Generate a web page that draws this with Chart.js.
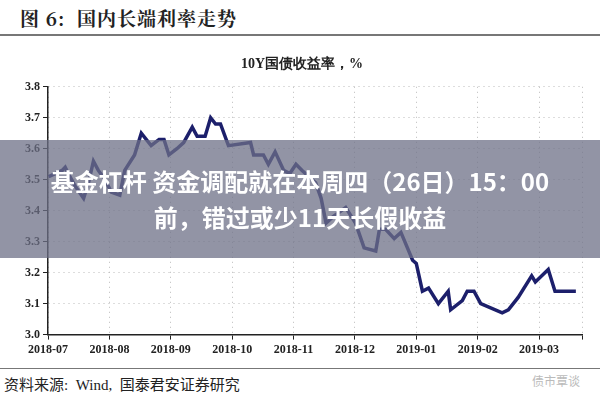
<!DOCTYPE html>
<html lang="zh">
<head>
  <meta charset="UTF-8" />
  <title>国内长端利率走势</title>
  <script src="https://cdn.jsdelivr.net/npm/chart.js"></script>
  <style>
    body { margin:0; width:600px; height:400px; background:#fff; position:relative; overflow:hidden; font-family:"Noto Sans CJK SC",sans-serif; }
    .head { position:absolute; left:20px; top:4px; font-size:19px; font-weight:bold; color:#222; font-family:"Noto Serif CJK SC","Noto Sans CJK SC",serif; letter-spacing:1px; }
    .hline { position:absolute; left:0; width:600px; height:2px; background:#777; }
    .wrap { position:absolute; left:0; top:42px; width:600px; height:318px; }
    .src { position:absolute; left:4px; top:373px; font-size:15px; color:#222; font-family:"Liberation Serif","Noto Sans CJK SC",serif; }
    .mark { position:absolute; right:20px; top:372px; font-size:12px; color:#bbb; }
    .banner { position:absolute; left:0; top:140px; width:600px; height:118px; background:rgba(110,112,135,0.75); color:#fff; font-weight:bold; font-size:24px; text-align:center; line-height:36px; padding-top:23px; box-sizing:border-box; }
  </style>
</head>
<body>
  <div class="head">图 6:&nbsp; 国内长端利率走势</div>
  <div class="hline" style="top:34px"></div>
  <div class="wrap"><canvas id="c"></canvas></div>
  <div class="hline" style="top:368px;height:1px"></div>
  <div class="src">资料来源:&nbsp; Wind,&nbsp; 国泰君安证券研究</div>
  <div class="mark">债市覃谈</div>
  <div class="banner">基金杠杆 资金调配就在本周四（26日）15：00<br>前，错过或少11天长假收益</div>

  <script>
    // x = months since 2018-07
    const monthLabels = ["2018-07","2018-08","2018-09","2018-10","2018-11","2018-12","2019-01","2019-02","2019-03"];
    const xPos = [0.01,0.23,0.28,0.33,0.44,0.58,0.66,0.74,0.82,0.93,1.03,1.17,1.25,1.41,1.52,1.68,1.81,1.89,1.97,2.1,2.21,2.35,2.43,2.56,2.65,2.73,2.81,2.94,3.3,3.35,3.51,3.59,3.70,3.84,3.94,4.04,
      4.14,4.36,4.45,4.53,4.64,4.85,5.01,5.15,5.34,5.4,5.5,5.64,5.75,5.94,6.0,6.1,6.2,6.36,6.52,6.56,6.75,6.83,6.94,7.05,7.4,7.5,7.66,7.88,7.94,8.15,8.26,8.45,8.6];
    const yields = [3.51,3.53,3.54,3.52,3.48,3.44,3.49,3.56,3.53,3.50,3.46,3.45,3.53,3.58,3.65,3.61,3.63,3.63,3.58,3.60,3.62,3.67,3.64,3.64,3.70,3.68,3.68,3.61,3.62,3.58,3.58,3.55,3.59,3.53,3.52,3.55,
      3.53,3.49,3.44,3.36,3.38,3.41,3.36,3.28,3.27,3.34,3.34,3.31,3.33,3.24,3.23,3.14,3.15,3.10,3.14,3.08,3.11,3.14,3.14,3.10,3.07,3.08,3.12,3.19,3.17,3.21,3.14,3.14,3.14];

    const serif = "'Liberation Serif','DejaVu Serif',serif";
    new Chart(document.getElementById("c"), {
      type: 'line',
      data: {
        datasets: [{
          data: xPos.map((x, i) => ({ x: x, y: yields[i] })),
          borderColor: "#1c1f6b",
          borderWidth: 3.5,
          pointRadius: 0,
          tension: 0
        }]
      },
      options: {
        responsive: true,
        maintainAspectRatio: false,
        animation: false,
        layout: { padding: { left: 22, right: 18, top: 0, bottom: 0 } },
        plugins: {
          legend: { display: false },
          tooltip: { enabled: false },
          title: { display: true, text: "10Y国债收益率，%", color: "#222", font: { size: 14, weight: 'bold', family: serif }, padding: { top: 14, bottom: 14 } }
        },
        scales: {
          x: {
            type: 'linear', min: 0, max: 8.7,
            ticks: { stepSize: 1, autoSkip: false, maxRotation: 0, color: "#222", font: { size: 12, weight: 'bold', family: serif },
              callback: v => monthLabels[v] || "" },
            grid: { color: "#bbb", tickColor: "#222", tickLength: 5, drawOnChartArea: true },
            border: { color: "#222", width: 1.5, dash: [1, 4] }
          },
          y: {
            min: 3.0, max: 3.8,
            ticks: { stepSize: 0.1, color: "#222", font: { size: 12, weight: 'bold', family: serif }, callback: v => v.toFixed(1) },
            grid: { color: "#bbb", tickColor: "#222", tickLength: 5 },
            border: { color: "#222", width: 1.5, dash: [1, 4] }
          }
        }
      }
    });
  </script>
</body>
</html>
